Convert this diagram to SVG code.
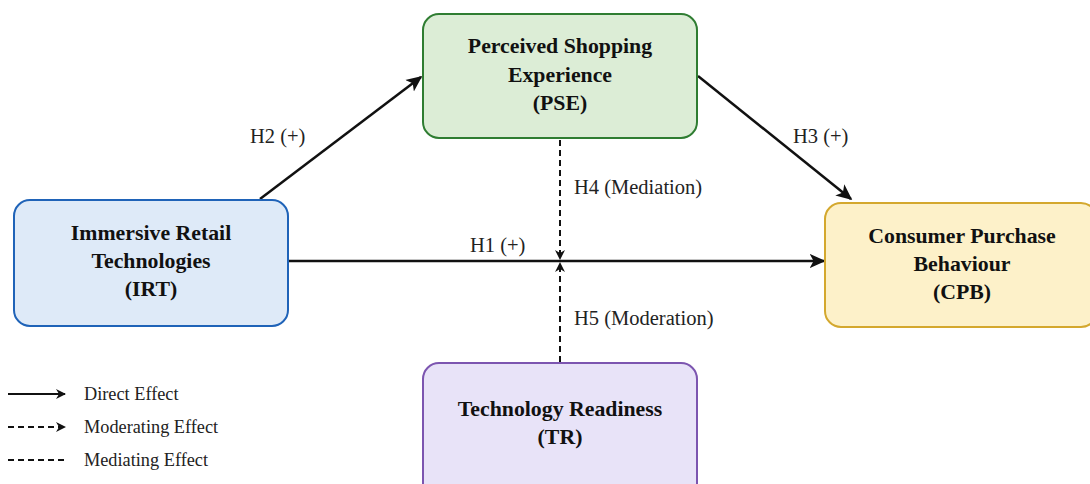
<svg xmlns="http://www.w3.org/2000/svg" width="1090" height="484" viewBox="0 0 1090 484">
<defs>
<marker id="ah" viewBox="0 0 10 10" refX="9" refY="5" markerWidth="10" markerHeight="10" markerUnits="userSpaceOnUse" orient="auto"><path d="M0,0 L10,5 L0,10 L3,5 z" fill="#111"/></marker>
<marker id="ahl" viewBox="0 0 10 10" refX="9" refY="5" markerWidth="16" markerHeight="16" markerUnits="userSpaceOnUse" orient="auto"><path d="M0,0.5 L10,5 L0,9.5 L2.5,5 z" fill="#111"/></marker>
<style>
.t{font-family:"Liberation Serif","Times New Roman",serif;font-weight:bold;font-size:21.8px;fill:#111;text-anchor:middle}
.l{font-family:"Liberation Serif","Times New Roman",serif;font-size:20.5px;fill:#222}
.g{font-family:"Liberation Serif","Times New Roman",serif;font-size:18.3px;fill:#222}
.s{stroke:#111;stroke-width:2.5;fill:none}
.d{stroke:#111;stroke-width:2;fill:none;stroke-dasharray:6,4}
</style>
</defs>
<rect width="1090" height="484" fill="#ffffff"/>
<g id="connectors">
<line class="s" x1="288" y1="261" x2="824" y2="261" marker-end="url(#ahl)"/>
<line class="s" x1="260" y1="199" x2="421" y2="77" marker-end="url(#ahl)"/>
<line class="s" x1="698" y1="76" x2="851" y2="199" marker-end="url(#ahl)"/>
<line class="d" x1="560" y1="140" x2="560" y2="259" marker-end="url(#ah)"/>
<line class="d" x1="560" y1="362" x2="560" y2="263" marker-end="url(#ah)"/>
<text class="l" x="250" y="143">H2 (+)</text>
<text class="l" x="793" y="143">H3 (+)</text>
<text class="l" x="470" y="252">H1 (+)</text>
<text class="l" x="574" y="194">H4 (Mediation)</text>
<text class="l" x="574" y="325">H5 (Moderation)</text>
</g>
<g id="PSE">
<rect x="423" y="14" width="274" height="124" rx="16" fill="#dcedd6" stroke="#2f7d32" stroke-width="2"/>
<text class="t" x="560" y="53">Perceived Shopping</text>
<text class="t" x="560" y="82">Experience</text>
<text class="t" x="560" y="110">(PSE)</text>
</g>
<g id="IRT">
<rect x="14" y="200" width="274" height="126" rx="16" fill="#deeaf8" stroke="#1f63b8" stroke-width="2"/>
<text class="t" x="151" y="240">Immersive Retail</text>
<text class="t" x="151" y="268">Technologies</text>
<text class="t" x="151" y="296">(IRT)</text>
</g>
<g id="CPB">
<rect x="825" y="203" width="272" height="124" rx="16" fill="#fdf1c9" stroke="#d4a82e" stroke-width="2"/>
<text class="t" x="962" y="243">Consumer Purchase</text>
<text class="t" x="962" y="271">Behaviour</text>
<text class="t" x="962" y="299">(CPB)</text>
</g>
<g id="TR">
<rect x="423" y="363" width="274" height="136" rx="16" fill="#e8e3f8" stroke="#7c55b0" stroke-width="2"/>
<text class="t" x="560" y="416">Technology Readiness</text>
<text class="t" x="560" y="444">(TR)</text>
</g>
<g id="legend">
<line x1="8" y1="394" x2="65" y2="394" stroke="#111" stroke-width="2" marker-end="url(#ah)"/>
<text class="g" x="84" y="400">Direct Effect</text>
<line x1="8" y1="427" x2="65" y2="427" stroke="#111" stroke-width="2" stroke-dasharray="6,4" marker-end="url(#ah)"/>
<text class="g" x="84" y="433">Moderating Effect</text>
<line x1="8" y1="460" x2="66" y2="460" stroke="#111" stroke-width="2" stroke-dasharray="6,4"/>
<text class="g" x="84" y="466">Mediating Effect</text>
</g>
</svg>
